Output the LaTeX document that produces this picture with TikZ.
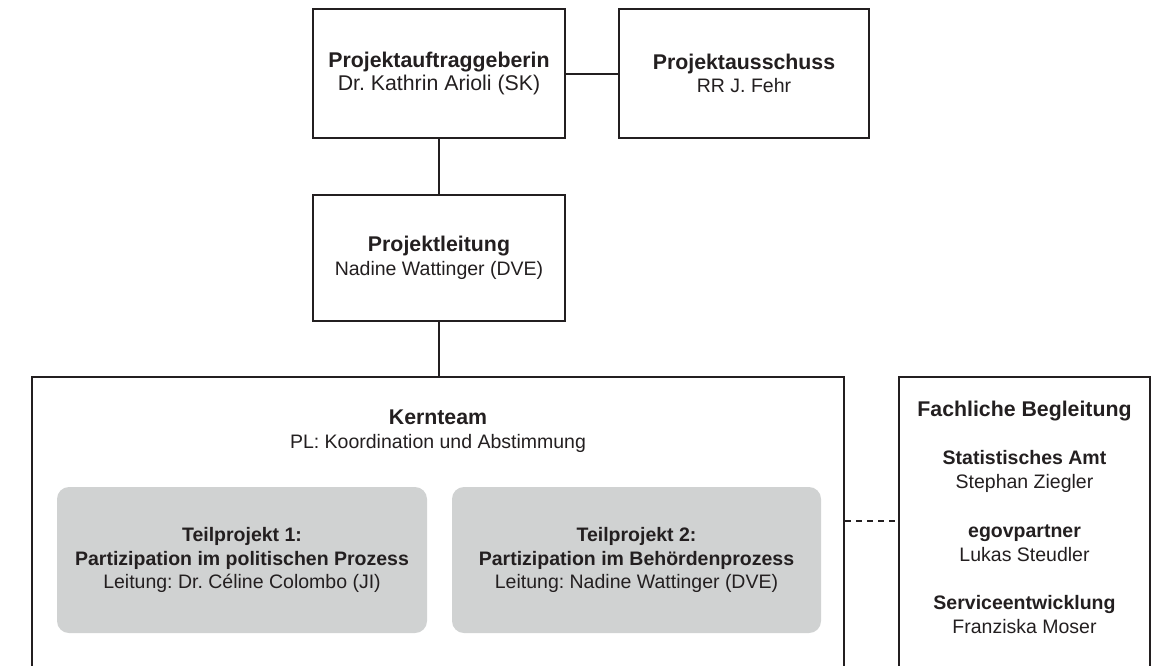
\documentclass[tikz,border=0pt]{standalone}
\usepackage{fontspec}
\setmainfont{Liberation Sans}
\frenchspacing
\definecolor{ink}{HTML}{231F20}
\definecolor{tpgray}{HTML}{D0D2D2}
\newcommand{\ttl}[1]{{\fontsize{21.3}{23.5}\selectfont\bfseries #1}}
\newcommand{\bigreg}[1]{{\fontsize{21.3}{23.5}\selectfont #1}}
\begin{document}
\begin{tikzpicture}[x=1pt,y=-1pt,
  txt/.style={align=center, inner sep=0pt, text=ink, font=\fontsize{19.5}{23.5}\selectfont},
  box/.style={draw=ink, line width=2pt, fill=white, rectangle, inner sep=0pt},
  tpbox/.style={fill=tpgray, rounded corners=12pt, rectangle, inner sep=0pt},
  conn/.style={draw=ink, line width=2pt},
  dconn/.style={draw=ink, line width=1.6pt, dash pattern=on 6pt off 5pt}]
\useasboundingbox (0,0) rectangle (1166,665);
\begin{scope}
\clip (0,0) rectangle (1166,665);
% top boxes
\node[box, minimum width=252pt, minimum height=129pt] (A) at (439,73.5) {};
\node[box, minimum width=250pt, minimum height=129pt] (B) at (744,73.5) {};
\node[box, minimum width=252pt, minimum height=126pt] (C) at (439,258) {};
% bottom boxes (cut by page edge)
\node[box, minimum width=812pt, minimum height=313pt] (K) at (438,533.5) {};
\node[box, minimum width=251pt, minimum height=313pt] (F) at (1024.5,533.5) {};
% grey sub-project boxes
\node[tpbox, minimum width=370pt, minimum height=146pt] (T1) at (242,560) {};
\node[tpbox, minimum width=369pt, minimum height=146pt] (T2) at (636.5,560) {};
\end{scope}
% texts
\node[txt] (At) at (439,73.5) {\ttl{Projektauftraggeberin}\\\bigreg{Dr. Kathrin Arioli (SK)}};
\node[txt] (Bt) at (744,73.5) {\ttl{Projektausschuss}\\RR J. Fehr};
\node[txt] (Ct) at (439,258) {\ttl{Projektleitung}\\Nadine Wattinger (DVE)};
\node[txt] (Kt) at (438,431) {\ttl{Kernteam}\\PL: Koordination und Abstimmung};
\node[txt] (T1t) at (T1) {\bfseries Teilprojekt 1:\\\bfseries Partizipation im politischen Prozess\\Leitung: Dr. Céline Colombo (JI)};
\node[txt] (T2t) at (T2) {\bfseries Teilprojekt 2:\\\bfseries Partizipation im Behördenprozess\\Leitung: Nadine Wattinger (DVE)};
\node[txt] (Ft) at (1024.5,411) {\ttl{Fachliche Begleitung}};
\node[txt] (F1) at (1024.5,471.5) {\bfseries Statistisches Amt\\Stephan Ziegler};
\node[txt] (F2) at (1024.5,543) {\bfseries egovpartner\\Lukas Steudler};
\node[txt] (F3) at (1024.5,614.5) {\bfseries Serviceentwicklung\\Franziska Moser};
% connectors
\draw[conn] (A.east) -- (B.west);
\draw[conn] (A.south) -- (C.north);
\draw[conn] (C.south) -- (C.south |- K.north);
\coordinate (d1) at ([yshift=-145pt]K.north east);
\draw[dconn] (d1) -- (d1 -| F.west);
\end{tikzpicture}
\end{document}
